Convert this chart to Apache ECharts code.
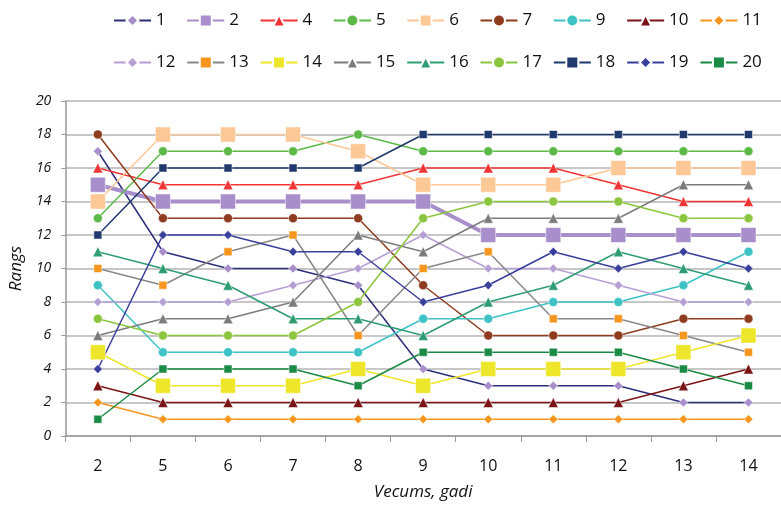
<!DOCTYPE html>
<html><head><meta charset="utf-8">
<script src="https://cdn.jsdelivr.net/npm/echarts@6/dist/echarts.min.js"></script>
<style>html,body{margin:0;padding:0;background:#fff}#c{width:781px;height:506px}</style>
</head><body><div id="c"></div>
<script>
const categories = ['2','5','6','7','8','9','10','11','12','13','14'];
const yTicks = {min:0, max:20, interval:2};

const s1  = [17,11,10,10,9,4,3,3,3,2,2];
const s2  = [15,14,14,14,14,14,12,12,12,12,12];
const s4  = [16,15,15,15,15,16,16,16,15,14,14];
const s5  = [13,17,17,17,18,17,17,17,17,17,17];
const s6  = [14,18,18,18,17,15,15,15,16,16,16];
const s7  = [18,13,13,13,13,9,6,6,6,7,7];
const s9  = [9,5,5,5,5,7,7,8,8,9,11];
const s10 = [3,2,2,2,2,2,2,2,2,3,4];
const s11 = [2,1,1,1,1,1,1,1,1,1,1];
const s12 = [8,8,8,9,10,12,10,10,9,8,8];
const s13 = [10,9,11,12,6,10,11,7,7,6,5];
const s14 = [5,3,3,3,4,3,4,4,4,5,6];
const s15 = [6,7,7,8,12,11,13,13,13,15,15];
const s16 = [11,10,9,7,7,6,8,9,11,10,9];
const s17 = [7,6,6,6,8,13,14,14,14,13,13];
const s18 = [12,16,16,16,16,18,18,18,18,18,18];
const s19 = [4,12,12,11,11,8,9,11,10,11,10];
const s20 = [1,4,4,4,3,5,5,5,5,4,3];

const defs = [
  ['1',  s1,  '#2e2f78', '#a88fcb', 'diamond', 9, 1.5],
  ['2',  s2,  '#a88fcb', '#a88fcb', 'rect', 15, 4],
  ['4',  s4,  '#f03535', '#f03535', 'triangle', 10, 1.5],
  ['5',  s5,  '#5cb947', '#5cb947', 'circle', 9, 1.5],
  ['6',  s6,  '#fcc896', '#fcc896', 'rect', 15, 1.5],
  ['7',  s7,  '#8e3b1e', '#8e3b1e', 'circle', 9, 1.5],
  ['9',  s9,  '#3ec2c6', '#3ec2c6', 'circle', 9, 1.5],
  ['10', s10, '#7a1416', '#7a1416', 'triangle', 10, 1.5],
  ['11', s11, '#f7961f', '#f7961f', 'diamond', 9, 1.5],
  ['12', s12, '#b4a0d4', '#b4a0d4', 'diamond', 9, 1.5],
  ['13', s13, '#888888', '#f7961f', 'rect', 8, 1.5],
  ['14', s14, '#ede62a', '#ede62a', 'rect', 15, 1.5],
  ['15', s15, '#7c7c7c', '#7c7c7c', 'triangle', 10, 1.5],
  ['16', s16, '#2e9d72', '#2e9d72', 'triangle', 10, 1.5],
  ['17', s17, '#8cc63e', '#8cc63e', 'circle', 9, 1.5],
  ['18', s18, '#203a6e', '#203a6e', 'rect', 8, 1.5],
  ['19', s19, '#3b3f9c', '#3b3f9c', 'diamond', 9, 1.5],
  ['20', s20, '#1b8a45', '#1b8a45', 'rect', 8, 1.5]
];

const series = defs.map(d => ({
  name: d[0], type: 'line', data: d[1],
  symbol: d[4], symbolSize: d[5],
  lineStyle: {color: d[2], width: d[6]},
  itemStyle: {color: d[3], borderColor: '#fff', borderWidth: 0.5},
  emphasis: {disabled: true}, animation: false
}));

// one legend entry per slot, laid out on a 9-column grid
const legends = defs.map((d, i) => ({
  data: [d[0]], padding: 0,
  left: 113 + (i % 9) * 73.3, top: i < 9 ? 12 : 54,
  itemWidth: 37, itemHeight: 15, itemGap: 0,
  textStyle: {fontFamily: 'Open Sans', fontSize: 17, color: '#111'}
}));

const chart = echarts.init(document.getElementById('c'), null, {renderer: 'canvas'});
chart.setOption({
  animation: false,
  legend: legends,
  grid: {left: 61, top: 101, width: 723, height: 339, containLabel: false},
  xAxis: {
    type: 'category', data: categories, boundaryGap: true,
    name: 'Vecums, gadi', nameLocation: 'middle', nameGap: 48,
    nameTextStyle: {fontFamily: 'Open Sans', fontStyle: 'italic', fontSize: 17, color: '#111'},
    axisLine: {lineStyle: {color: '#9a9a9a', width: 1.5}},
    axisTick: {show: true, length: 6, lineStyle: {color: '#9a9a9a'}},
    axisLabel: {fontFamily: 'Open Sans', fontSize: 16, color: '#111', margin: 22}
  },
  yAxis: {
    type: 'value', min: yTicks.min, max: yTicks.max, interval: yTicks.interval,
    name: 'Rangs', nameLocation: 'middle', nameGap: 38,
    nameTextStyle: {fontFamily: 'Open Sans', fontStyle: 'italic', fontSize: 17, color: '#111'},
    axisLine: {show: true, lineStyle: {color: '#9a9a9a', width: 1.5}},
    axisTick: {show: true, length: 4, lineStyle: {color: '#9a9a9a'}},
    axisLabel: {fontFamily: 'Open Sans', fontSize: 14, color: '#111', margin: 14, fontStyle: 'italic'},
    splitLine: {lineStyle: {color: '#b4b4b4', width: 1.5}}
  },
  series: series
});
</script></body></html>
